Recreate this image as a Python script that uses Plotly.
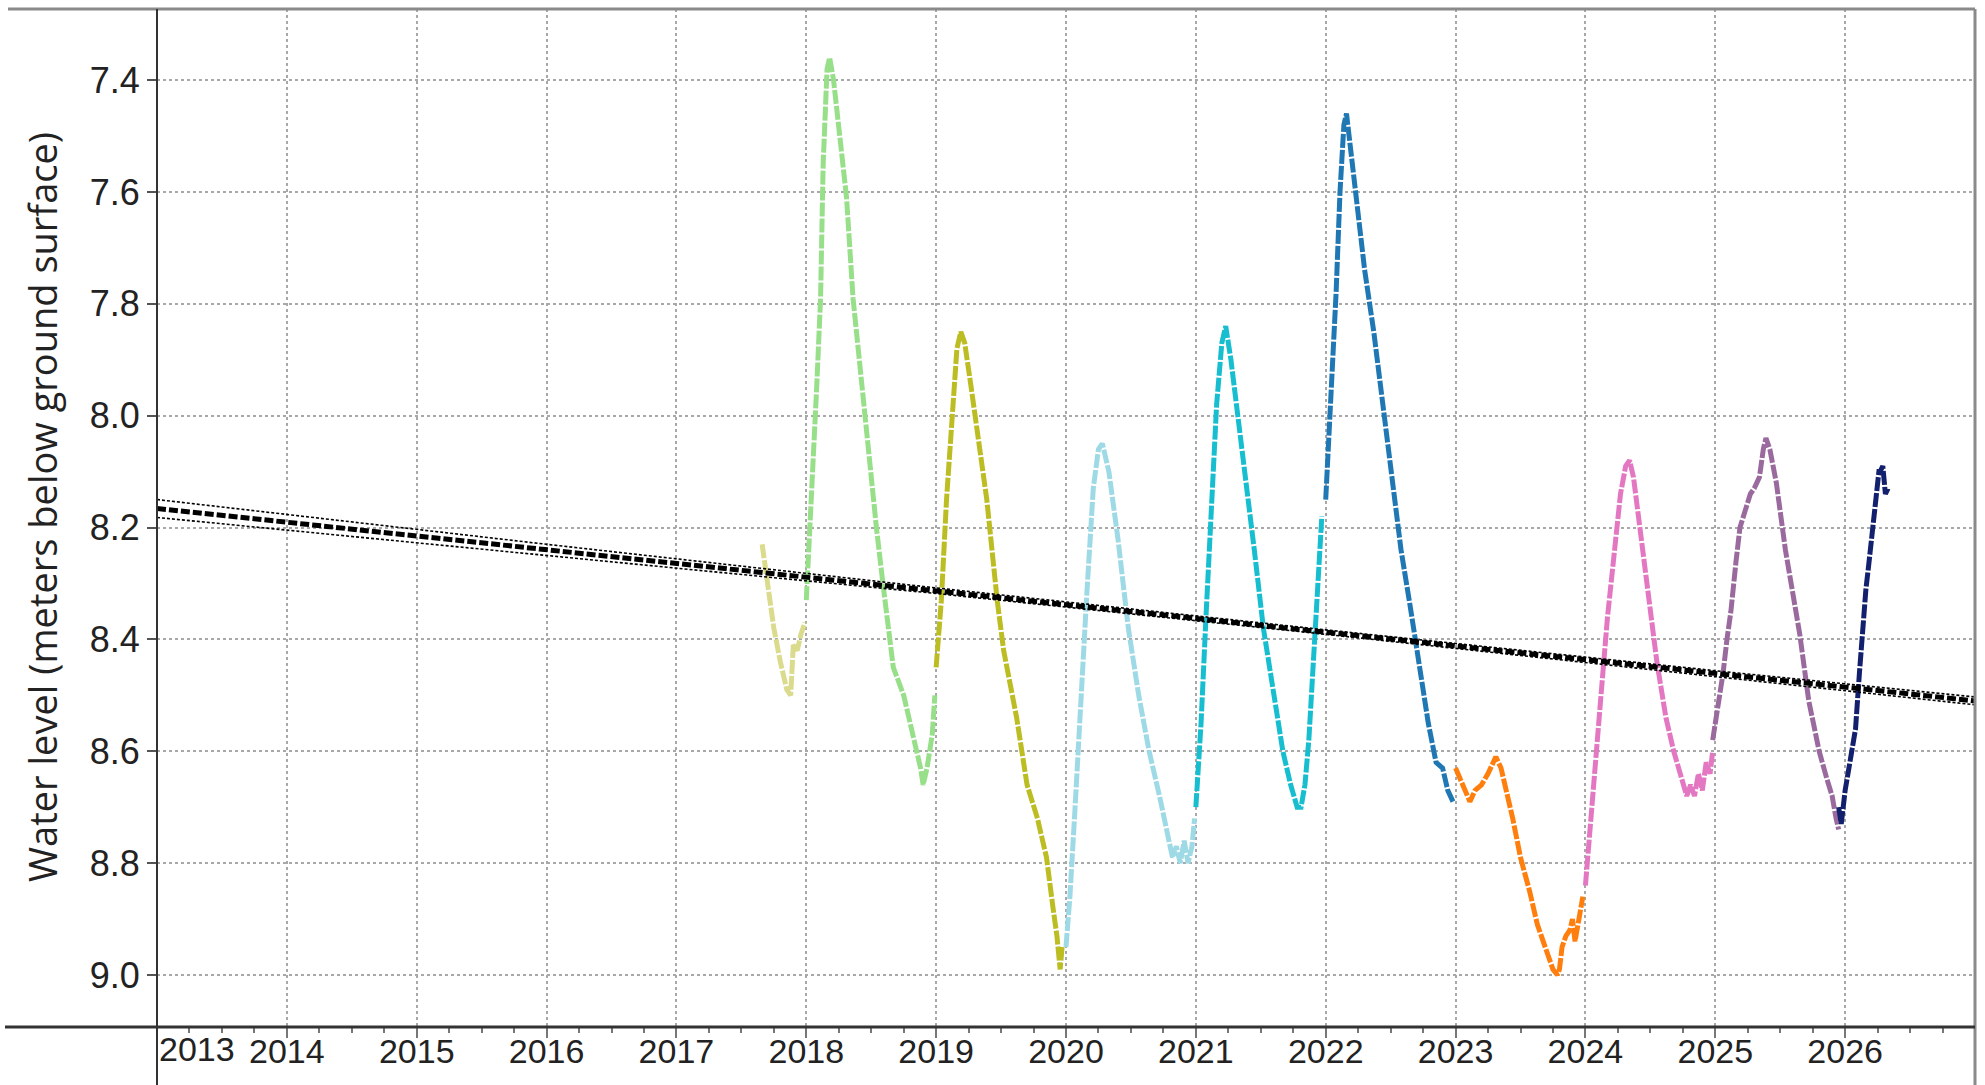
import plotly.graph_objects as go

# ---------------- data (decimal years, meters below ground surface) ----------------
wy2017_x = [2017.66, 2017.70, 2017.75, 2017.80, 2017.85, 2017.88, 2017.90, 2017.93, 2017.96, 2017.99]
wy2017_y = [8.23, 8.30, 8.38, 8.44, 8.49, 8.50, 8.41, 8.42, 8.39, 8.37]

wy2018_x = [2018.00, 2018.04, 2018.08, 2018.11, 2018.13, 2018.16, 2018.18, 2018.21, 2018.26, 2018.31,
            2018.36, 2018.42, 2018.48, 2018.54, 2018.59, 2018.67, 2018.75, 2018.82, 2018.88, 2018.90,
            2018.93, 2018.97, 2018.99]
wy2018_y = [8.33, 8.15, 7.95, 7.79, 7.55, 7.38, 7.36, 7.40, 7.50, 7.61,
            7.79, 7.93, 8.06, 8.20, 8.30, 8.45, 8.50, 8.57, 8.63, 8.66,
            8.63, 8.57, 8.50]

wy2019_x = [2019.00, 2019.04, 2019.08, 2019.12, 2019.16, 2019.19, 2019.22, 2019.27, 2019.33, 2019.39,
            2019.47, 2019.52, 2019.62, 2019.70, 2019.78, 2019.85, 2019.90, 2019.93, 2019.955, 2019.97]
wy2019_y = [8.45, 8.33, 8.15, 8.00, 7.88, 7.85, 7.87, 7.95, 8.05, 8.15,
            8.33, 8.42, 8.54, 8.66, 8.72, 8.79, 8.88, 8.93, 8.99, 8.95]

wy2020_x = [2020.00, 2020.03, 2020.07, 2020.11, 2020.16, 2020.21, 2020.25, 2020.28, 2020.33, 2020.40,
            2020.48, 2020.56, 2020.64, 2020.72, 2020.78, 2020.82, 2020.85, 2020.88, 2020.91, 2020.94,
            2020.97, 2020.99]
wy2020_y = [8.95, 8.86, 8.70, 8.52, 8.32, 8.13, 8.06, 8.05, 8.10, 8.22,
            8.38, 8.50, 8.60, 8.68, 8.75, 8.79, 8.77, 8.80, 8.76, 8.80,
            8.77, 8.72]

wy2021_x = [2021.00, 2021.04, 2021.08, 2021.12, 2021.16, 2021.20, 2021.23, 2021.27, 2021.32, 2021.38,
            2021.45, 2021.52, 2021.60, 2021.67, 2021.73, 2021.78, 2021.81, 2021.84, 2021.87, 2021.90,
            2021.93, 2021.97]
wy2021_y = [8.70, 8.55, 8.35, 8.15, 7.98, 7.87, 7.84, 7.90, 7.99, 8.10,
            8.24, 8.38, 8.50, 8.60, 8.66, 8.70, 8.70, 8.66, 8.58, 8.45,
            8.32, 8.18]

wy2022_x = [2022.00, 2022.04, 2022.08, 2022.11, 2022.14, 2022.16, 2022.19, 2022.24, 2022.30, 2022.37,
            2022.44, 2022.51, 2022.58, 2022.65, 2022.72, 2022.79, 2022.85, 2022.90, 2022.94, 2022.98]
wy2022_y = [8.15, 7.98, 7.78, 7.60, 7.48, 7.46, 7.52, 7.62, 7.74, 7.85,
            7.98, 8.12, 8.24, 8.34, 8.45, 8.55, 8.62, 8.63, 8.67, 8.69]

wy2023_x = [2023.00, 2023.05, 2023.11, 2023.15, 2023.20, 2023.25, 2023.31, 2023.35, 2023.39, 2023.44,
            2023.50, 2023.57, 2023.63, 2023.67, 2023.72, 2023.75, 2023.785, 2023.80, 2023.82, 2023.85,
            2023.88, 2023.90, 2023.92, 2023.95, 2023.98]
wy2023_y = [8.63, 8.66, 8.69, 8.67, 8.66, 8.64, 8.61, 8.63, 8.67, 8.72,
            8.79, 8.85, 8.91, 8.94, 8.97, 8.99, 9.00, 8.99, 8.95, 8.93,
            8.92, 8.90, 8.94, 8.90, 8.86]

wy2024_x = [2024.00, 2024.04, 2024.08, 2024.12, 2024.17, 2024.22, 2024.27, 2024.31, 2024.34, 2024.37,
            2024.42, 2024.48, 2024.55, 2024.62, 2024.68, 2024.73, 2024.78, 2024.81, 2024.84, 2024.87,
            2024.90, 2024.93, 2024.96, 2024.98]
wy2024_y = [8.84, 8.72, 8.62, 8.50, 8.36, 8.24, 8.14, 8.09, 8.08, 8.11,
            8.20, 8.32, 8.44, 8.54, 8.60, 8.64, 8.68, 8.66, 8.68, 8.64,
            8.67, 8.62, 8.64, 8.60]

wy2025_x = [2024.98, 2025.02, 2025.06, 2025.09, 2025.12, 2025.16, 2025.19, 2025.23, 2025.27, 2025.30,
            2025.34, 2025.37, 2025.39, 2025.42, 2025.47, 2025.54, 2025.60, 2025.65, 2025.72, 2025.80,
            2025.86, 2025.90, 2025.93, 2025.95]
wy2025_y = [8.58, 8.52, 8.46, 8.40, 8.35, 8.26, 8.20, 8.17, 8.14, 8.13,
            8.11, 8.06, 8.04, 8.06, 8.12, 8.24, 8.32, 8.39, 8.51, 8.60,
            8.65, 8.68, 8.72, 8.74]

wy2026_x = [2025.95, 2025.97, 2026.00, 2026.04, 2026.08, 2026.11, 2026.13, 2026.16, 2026.18, 2026.21,
            2026.24, 2026.26, 2026.27, 2026.29, 2026.31, 2026.33]
wy2026_y = [8.70, 8.73, 8.67, 8.62, 8.56, 8.46, 8.39, 8.31, 8.27, 8.20,
            8.15, 8.10, 8.10, 8.09, 8.14, 8.13]

series_names = ["2017", "2018", "2019", "2020", "2021", "2022", "2023", "2024", "2025", "2026"]
series_x = [wy2017_x, wy2018_x, wy2019_x, wy2020_x, wy2021_x, wy2022_x, wy2023_x, wy2024_x, wy2025_x, wy2026_x]
series_y = [wy2017_y, wy2018_y, wy2019_y, wy2020_y, wy2021_y, wy2022_y, wy2023_y, wy2024_y, wy2025_y, wy2026_y]
series_colors = ["#dbdb8d", "#98df8a", "#bcbd22", "#9edae5", "#17becf",
                 "#1f77b4", "#ff7f0e", "#e377c2", "#9a6a9e", "#13206e"]

trend_x = [2013.0, 2016.0, 2019.0, 2022.0, 2025.0, 2027.0]
trend_y = [8.166, 8.240, 8.313, 8.387, 8.461, 8.510]
band_upper = [8.150, 8.230, 8.308, 8.383, 8.456, 8.503]
band_lower = [8.182, 8.250, 8.318, 8.391, 8.466, 8.517]

year_ticks = list(range(2013, 2027))
level_ticks = [7.4, 7.6, 7.8, 8.0, 8.2, 8.4, 8.6, 8.8, 9.0]
y_title = "Water level (meters below ground surface)"

# ---------------- figure ----------------
fig = go.Figure()

for nm, xs, ys, col in zip(series_names, series_x, series_y, series_colors):
    fig.add_trace(go.Scatter(x=xs, y=ys, mode="lines", name=nm,
                             line=dict(color=col, width=5, dash="14px,2px"),
                             showlegend=False))

fig.add_trace(go.Scatter(x=trend_x, y=band_upper, mode="lines",
                         line=dict(color="black", width=1.6, dash="3px,2px"), showlegend=False))
fig.add_trace(go.Scatter(x=trend_x, y=band_lower, mode="lines",
                         line=dict(color="black", width=1.6, dash="3px,2px"), showlegend=False))
fig.add_trace(go.Scatter(x=trend_x, y=trend_y, mode="lines",
                         line=dict(color="black", width=5, dash="9px,3px"), showlegend=False))

tick_font = dict(family="Liberation Sans, Arial, sans-serif", size=34, color="#222")

fig.update_xaxes(range=[2013.0, 2027.0], tickmode="array", tickvals=year_ticks,
                 ticktext=["" if y == 2013 else str(y) for y in year_ticks],
                 showgrid=True, gridcolor="#a8a8a8", gridwidth=1.5, griddash="dot",
                 ticks="outside", ticklen=10, tickcolor="#777", tickwidth=1.5,
                 ticklabelstandoff=-16,
                 minor=dict(ticks="outside", ticklen=5, dtick=0.25, tick0=2013, tickcolor="#777", showgrid=False),
                 tickfont=tick_font, zeroline=False, showline=False)
fig.update_yaxes(range=[9.093, 7.273], tickmode="array", tickvals=level_ticks,
                 ticktext=[f"{v:.1f}" for v in level_ticks],
                 showgrid=True, gridcolor="#a8a8a8", gridwidth=1.5, griddash="dot",
                 ticks="outside", ticklen=9, tickcolor="#555", tickwidth=2,
                 tickfont=dict(family="Liberation Sans, Arial, sans-serif", size=36, color="#222"),
                 zeroline=False, showline=False)

W, H = 1985, 1085
L, R, T, B = 157, 10, 9, 58
pw, ph = W - L - R, H - T - B

def px(xp):
    return (xp - L) / pw

def py(yp):
    return (H - B - yp) / ph

shapes = [
    dict(type="line", xref="paper", yref="paper", x0=px(8), x1=px(1975), y0=py(9), y1=py(9),
         line=dict(color="#8a8a8a", width=3)),
    dict(type="line", xref="paper", yref="paper", x0=px(1975), x1=px(1975), y0=py(9), y1=py(1085),
         line=dict(color="#8a8a8a", width=3)),
    dict(type="line", xref="paper", yref="paper", x0=px(5), x1=px(1975), y0=py(1027), y1=py(1027),
         line=dict(color="#333", width=3)),
    dict(type="line", xref="paper", yref="paper", x0=px(157), x1=px(157), y0=py(9), y1=py(1085),
         line=dict(color="#333", width=2)),
]

annotations = [
    dict(text=y_title, xref="paper", yref="paper", x=px(42), y=py(507), textangle=-90,
         showarrow=False, xanchor="center", yanchor="middle",
         font=dict(family="Open Sans, Liberation Sans, sans-serif", size=38, color="#222")),
    dict(text=str(year_ticks[0]), xref="x", yref="paper", x=2013.0, y=py(1049),
         showarrow=False, xanchor="left", yanchor="middle", font=tick_font),
]

fig.update_layout(width=W, height=H, margin=dict(l=L, r=R, t=T, b=B),
                  plot_bgcolor="white", paper_bgcolor="white",
                  shapes=shapes, annotations=annotations, showlegend=False)

fig.write_html("out.html", config={"displayModeBar": False},
               post_script="document.body.style.margin='0';document.body.style.overflow='hidden';")
